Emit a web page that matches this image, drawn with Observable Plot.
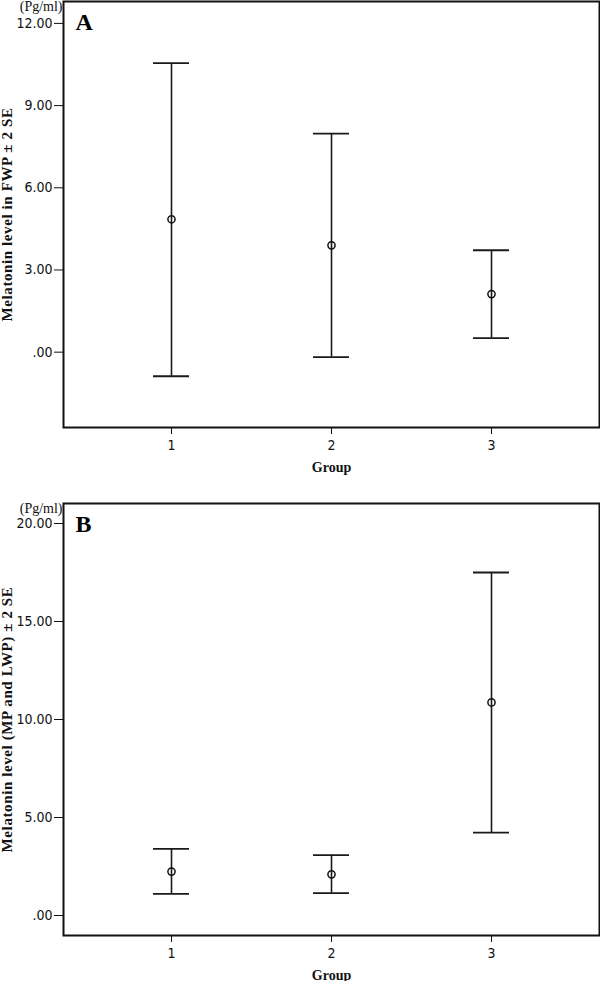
<!DOCTYPE html>
<html><head><meta charset="utf-8">
<script src="https://cdn.jsdelivr.net/npm/d3@7"></script>
<script src="https://cdn.jsdelivr.net/npm/@observablehq/plot@0.6"></script>
<style>
body{margin:0;background:#fff;}
#chart{width:600px;}
#chart svg{display:block;}
</style></head><body><div id="chart"></div>
<script>
// Data
const groups = [1, 2, 3];
// Panel A: Melatonin level in FWP (mean ± 2 SE)
const meanA  = [4.85, 3.90, 2.12];
const lowerA = [-0.88, -0.18, 0.51];
const upperA = [10.55, 7.98, 3.72];
const ticksA = [0, 3, 6, 9, 12];
// Panel B: Melatonin level (MP and LWP) (mean ± 2 SE)
const meanB  = [2.24, 2.10, 10.87];
const lowerB = [1.10, 1.14, 4.23];
const upperB = [3.40, 3.08, 17.50];
const ticksB = [0, 5, 10, 15, 20];

const labelA = "Melatonin level in FWP \u00b1 2 SE";
const labelB = "Melatonin level (MP and LWP) \u00b1 2 SE";
const xLabel = "Group";
const unit = "(Pg/ml)";

const narrow = "'Liberation Sans Narrow','Arial Narrow','DejaVu Sans Condensed','Liberation Sans',sans-serif";
const serif = "'Liberation Serif','Times New Roman','DejaVu Serif',serif";

function panel({mean, lower, upper, yDomain, yTicks, yLabel, letter, height, marginTop, marginBottom}) {
  const rows = groups.map((g, i) => ({group: g, mean: mean[i], lower: lower[i], upper: upper[i]}));
  const ink = "#1a1a1a";
  const plot = Plot.plot({
    width: 600, height, marginTop, marginBottom, marginLeft: 63, marginRight: 1,
    style: {fontFamily: narrow, fontSize: "14px", color: "#111", background: "white", overflow: "visible"},
    x: {type: "band", domain: groups, paddingInner: 0, paddingOuter: 0.17,
        tickSize: 7, tickPadding: 6, label: xLabel, labelAnchor: "center", labelOffset: 44, labelArrow: "none"},
    y: {domain: yDomain, ticks: yTicks, tickFormat: d => d === 0 ? ".00" : d.toFixed(2),
        tickSize: 9, tickPadding: 2, label: yLabel, labelAnchor: "center", labelOffset: 62, labelArrow: "none"},
    marks: [
      Plot.frame({stroke: "#111", strokeWidth: 2}),
      Plot.ruleX(rows, {x: "group", y1: "lower", y2: "upper", stroke: ink, strokeWidth: 1.6}),
      Plot.tickY(rows, {x: "group", y: "lower", insetLeft: 62, insetRight: 62, stroke: ink, strokeWidth: 1.8}),
      Plot.tickY(rows, {x: "group", y: "upper", insetLeft: 62, insetRight: 62, stroke: ink, strokeWidth: 1.8}),
      Plot.dot(rows, {x: "group", y: "mean", r: 3.6, stroke: "#111", strokeWidth: 1.5, fill: "none"}),
      Plot.text([letter], {text: d => d, frameAnchor: "top-left", dx: 12, dy: 11,
        fontFamily: serif, fontWeight: "bold", fontSize: 24, fill: "#000"}),
      Plot.text([unit], {text: d => d, frameAnchor: "top-left", textAnchor: "end", lineAnchor: "top",
        dx: -1, dy: 0, fontFamily: serif, fontSize: 14, fill: "#111"})
    ]
  });
  d3.select(plot).selectAll("text").filter(function() {
    const t = this.textContent;
    return t.startsWith(xLabel) || t.startsWith(yLabel);
  }).each(function() {
    const isY = this.textContent.startsWith(yLabel);
    d3.select(this).text(isY ? yLabel : xLabel)
      .attr("font-family", serif).attr("font-weight", "bold")
      .attr("font-size", isY ? 15 : 14).attr("letter-spacing", isY ? 0.6 : null).attr("fill", "#111");
  });
  return plot;
}

const chart = document.getElementById("chart");
chart.appendChild(panel({mean: meanA, lower: lowerA, upper: upperA, yDomain: [-2.75, 12.8], yTicks: ticksA,
  yLabel: labelA, letter: "A", height: 472, marginTop: 1, marginBottom: 45}));
chart.appendChild(panel({mean: meanB, lower: lowerB, upper: upperB, yDomain: [-1.02, 21.02], yTicks: ticksB,
  yLabel: labelB, letter: "B", height: 509, marginTop: 31, marginBottom: 46}));
</script>
</body></html>
